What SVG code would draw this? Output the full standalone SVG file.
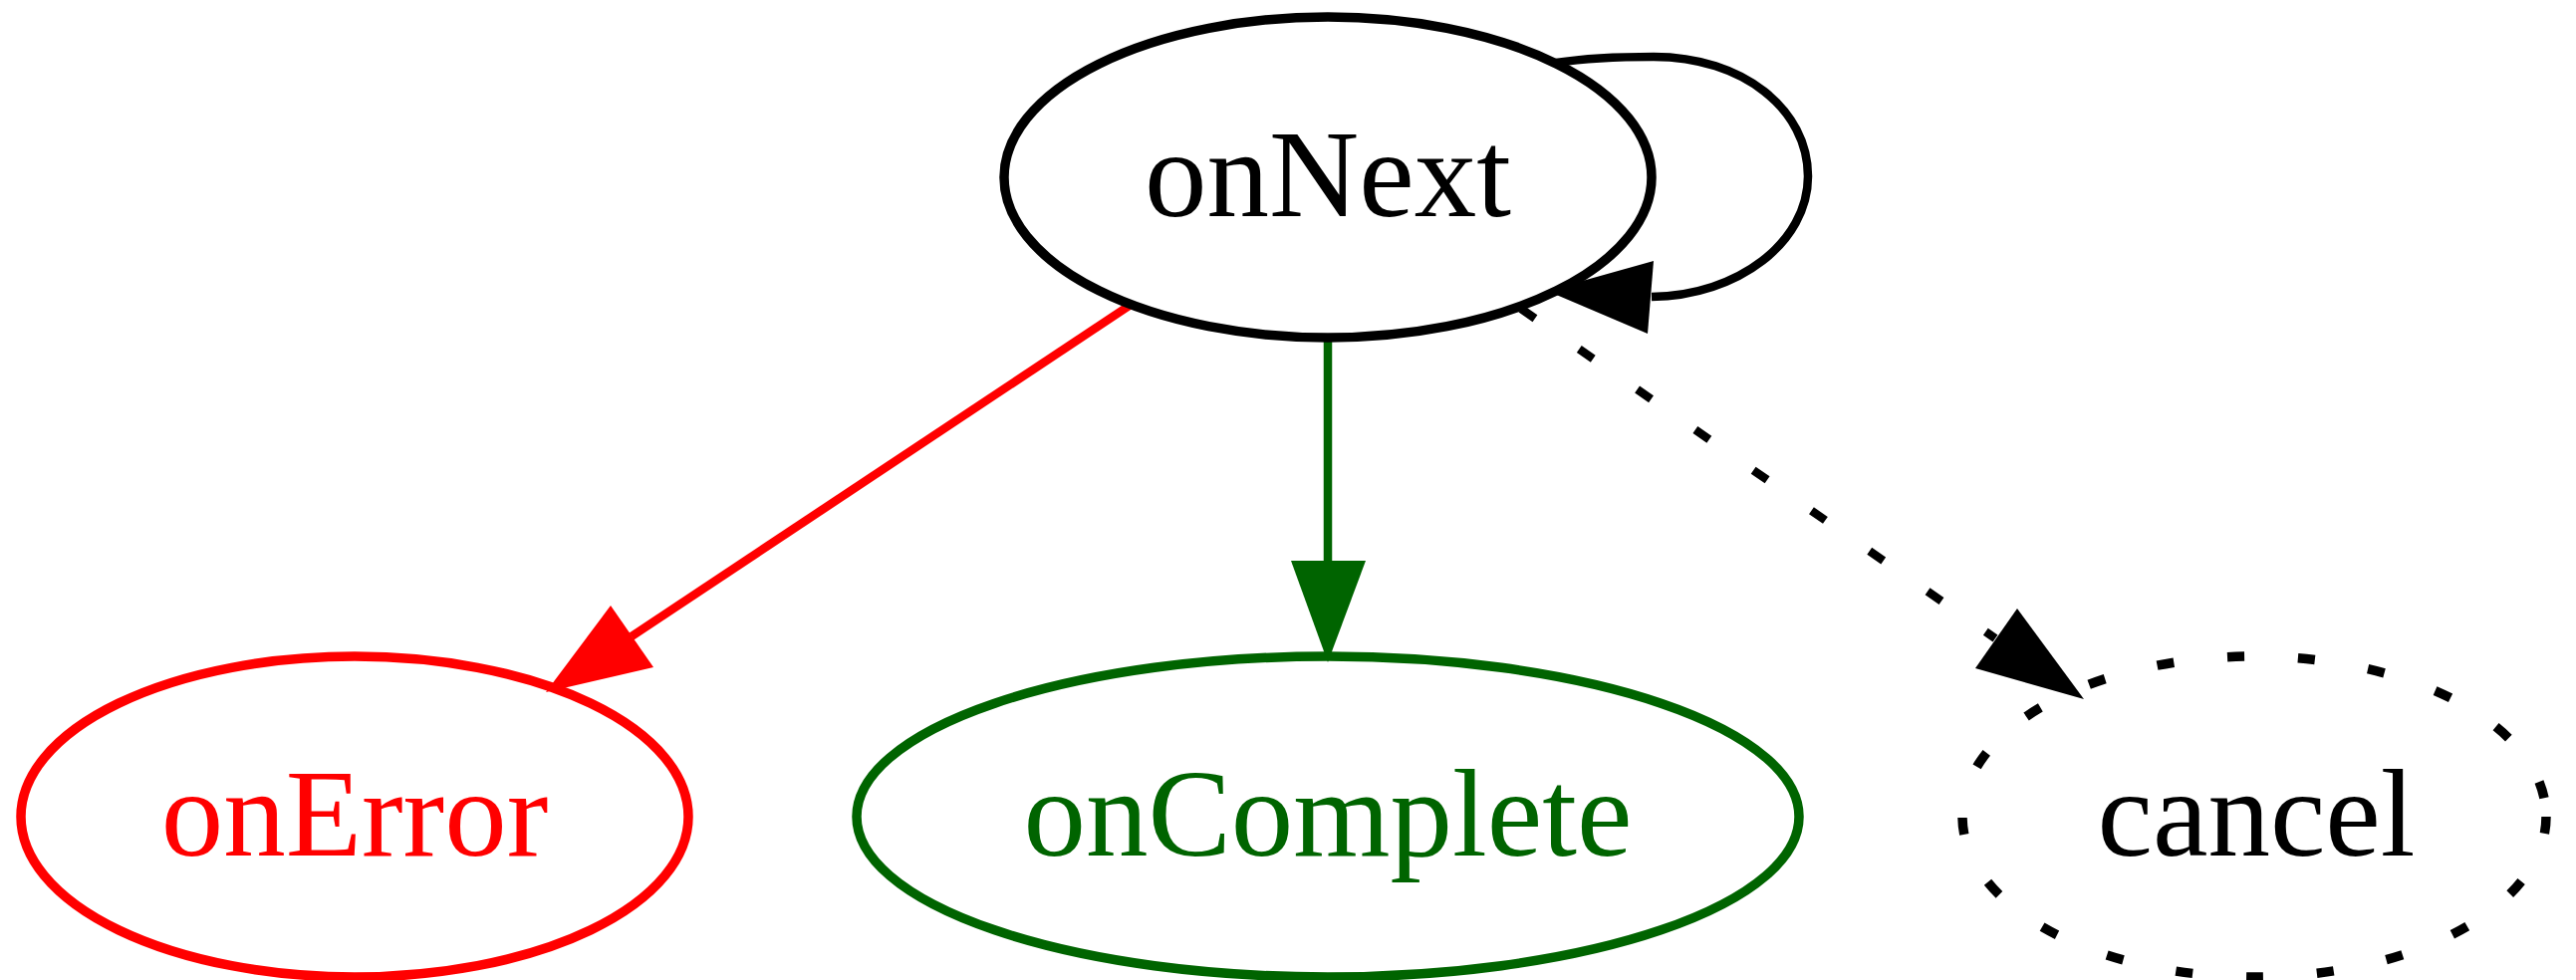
<svg xmlns="http://www.w3.org/2000/svg" width="2586" height="984" viewBox="0 0 2586 984">
<style>
  .lbl { font-family: "Liberation Serif", "Times New Roman", serif; font-size: 125px; text-anchor: middle; }
  .node { fill: none; stroke-width: 9.5; }
  .edge { fill: none; stroke-width: 8.5; }
  .dot { stroke-dasharray: 17 54; }
</style>
<rect width="2586" height="984" fill="#ffffff"/>
<g id="connectors">
  <g id="edge-onNext-onNext">
    <path class="edge" stroke="#000000" stroke-width="9.5" d="M1562,63 C1595,58 1625,57 1660,57 C1750,57 1815,110 1815,177 C1815,243 1745,297 1658,298"/>
    <polygon fill="#000000" points="1660,262 1654,335 1553,292"/>
  </g>
  <g id="edge-onNext-onError">
    <path class="edge" stroke="#ff0000" d="M1135,306 L634,639"/>
    <polygon fill="#ff0000" points="613,608 656,670 548,695"/>
  </g>
  <g id="edge-onNext-onComplete">
    <path class="edge" stroke="#006400" d="M1333,339 L1333,563"/>
    <polygon fill="#006400" points="1296,563 1371,563 1333,665"/>
  </g>
  <g id="edge-onNext-cancel">
    <path class="edge dot" stroke="#000000" d="M1527,310 L2003,641"/>
    <polygon fill="#000000" points="2025,611 1983,671 2092,702"/>
  </g>
</g>
<g id="node-onNext">
  <ellipse class="node" stroke="#000000" cx="1333" cy="178" rx="325" ry="161"/>
  <text class="lbl" x="1333" y="217" fill="#000000">onNext</text>
</g>
<g id="node-onError">
  <ellipse class="node" stroke="#ff0000" cx="356" cy="820" rx="335" ry="161"/>
  <text class="lbl" x="356" y="859" fill="#ff0000">onError</text>
</g>
<g id="node-onComplete">
  <ellipse class="node" stroke="#006400" cx="1333" cy="820" rx="473" ry="161"/>
  <text class="lbl" x="1333" y="859" fill="#006400">onComplete</text>
</g>
<g id="node-cancel">
  <ellipse class="node dot" stroke="#000000" cx="2263" cy="820" rx="293" ry="161"/>
  <text class="lbl" x="2265" y="859" fill="#000000">cancel</text>
</g>
</svg>
